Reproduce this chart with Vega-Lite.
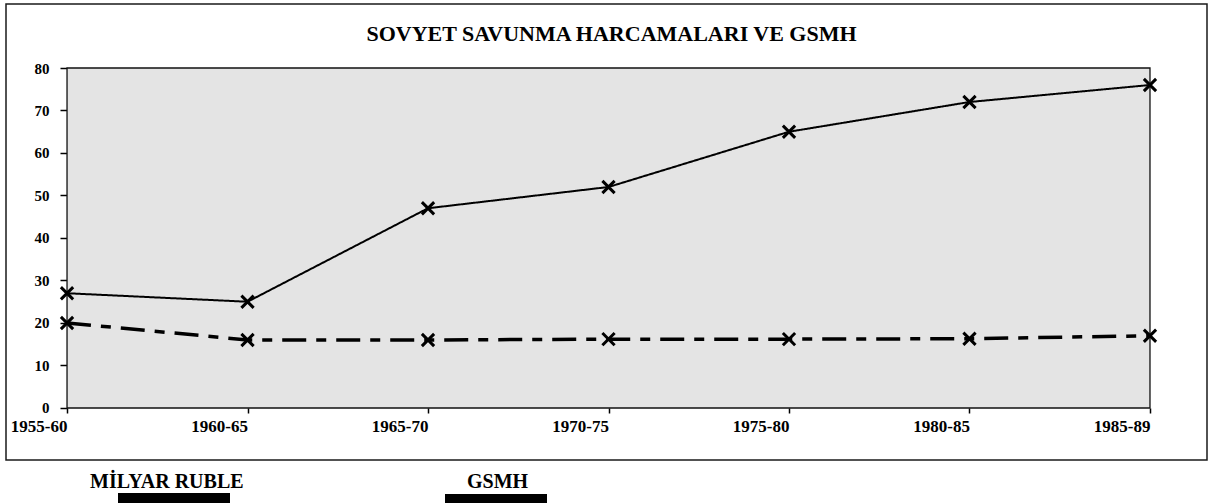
{
  "$schema": "https://vega.github.io/schema/vega-lite/v6.json",
  "autosize": "none",
  "padding": {"left": 6, "top": 4, "right": 15, "bottom": 43},
  "width": 1201,
  "height": 456,
  "background": "white",
  "title": {
    "text": "SOVYET SAVUNMA HARCAMALARI VE GSMH",
    "font": "Liberation Serif",
    "fontSize": 22,
    "fontWeight": "bold",
    "color": "black",
    "offset": -52,
    "baseline": "middle",
    "dx": 5
  },
  "config": {
    "view": {"stroke": "#1a1a1a", "strokeWidth": 1.5, "fill": "white"},
    "font": "Liberation Serif"
  },
  "data": {
    "values": [
      {"period": "1955-60", "series": "MİLYAR RUBLE", "value": 27},
      {"period": "1960-65", "series": "MİLYAR RUBLE", "value": 25},
      {"period": "1965-70", "series": "MİLYAR RUBLE", "value": 47},
      {"period": "1970-75", "series": "MİLYAR RUBLE", "value": 52},
      {"period": "1975-80", "series": "MİLYAR RUBLE", "value": 65},
      {"period": "1980-85", "series": "MİLYAR RUBLE", "value": 72},
      {"period": "1985-89", "series": "MİLYAR RUBLE", "value": 76},
      {"period": "1955-60", "series": "GSMH", "value": 20},
      {"period": "1960-65", "series": "GSMH", "value": 16},
      {"period": "1965-70", "series": "GSMH", "value": 16},
      {"period": "1970-75", "series": "GSMH", "value": 16.2},
      {"period": "1975-80", "series": "GSMH", "value": 16.2},
      {"period": "1980-85", "series": "GSMH", "value": 16.3},
      {"period": "1985-89", "series": "GSMH", "value": 17}
    ]
  },
  "layer": [
    {
      "data": {"values": [{}]},
      "mark": {"type": "rect", "fill": "#e4e4e4", "stroke": "#111111", "strokeWidth": 1.3},
      "encoding": {
        "x": {"datum": "1955-60", "type": "ordinal"},
        "x2": {"datum": "1985-89"},
        "y": {"datum": 0, "type": "quantitative"},
        "y2": {"datum": 80}
      }
    },
    {
      "mark": {"type": "line"},
      "encoding": {
        "x": {
          "field": "period",
          "type": "ordinal",
          "scale": {"type": "point", "padding": 0.327, "align": 0.517},
          "axis": {
            "orient": "bottom",
            "offset": -52,
            "domain": false,
            "tickSize": 5,
            "tickWidth": 1.5,
            "tickColor": "black",
            "labelFont": "Liberation Serif",
            "labelFontSize": 17,
            "labelFontWeight": "bold",
            "labelColor": "black",
            "labelPadding": 13,
            "labelAngle": 0,
            "title": null
          }
        },
        "y": {
          "field": "value",
          "type": "quantitative",
          "scale": {"domain": [-12.24, 95.06], "nice": false, "zero": false},
          "axis": {
            "orient": "left",
            "offset": -61,
            "values": [0, 10, 20, 30, 40, 50, 60, 70, 80],
            "domain": false,
            "grid": false,
            "tickSize": 7,
            "tickWidth": 1.5,
            "tickColor": "black",
            "labelFont": "Liberation Serif",
            "labelFontSize": 15,
            "labelFontWeight": "bold",
            "labelColor": "black",
            "labelPadding": 11,
            "title": null
          }
        },
        "color": {
          "field": "series",
          "type": "nominal",
          "scale": {"domain": ["MİLYAR RUBLE", "GSMH"], "range": ["black", "black"]},
          "legend": {
            "values": ["MİLYAR RUBLE"],
            "orient": "none",
            "legendX": 64,
            "legendY": 468,
            "title": null,
            "padding": 0,
            "labelFont": "Liberation Serif",
            "labelFontSize": 20,
            "labelFontWeight": "bold",
            "labelColor": "black",
            "labelOffset": 0,
            "symbolType": "M39,12H149V24H39Z",
            "symbolSize": 4,
            "symbolFillColor": "black",
            "symbolStrokeWidth": 0,
            "encode": {
              "symbols": {
                "update": {
                  "fill": {"value": "black"},
                  "stroke": {"value": "transparent"},
                  "shape": {"value": "M39,12H149V24H39Z"},
                  "size": {"value": 4},
                  "opacity": {"value": 1}
                }
              }
            }
          }
        },
        "strokeDash": {
          "field": "series",
          "type": "nominal",
          "scale": {"domain": ["GSMH", "MİLYAR RUBLE"], "range": [[24, 10, 10, 10], [1, 0]]},
          "legend": {
            "values": ["GSMH"],
            "orient": "none",
            "legendX": 441,
            "legendY": 468,
            "title": null,
            "padding": 0,
            "labelFont": "Liberation Serif",
            "labelFontSize": 20,
            "labelFontWeight": "bold",
            "labelColor": "black",
            "labelOffset": 0,
            "symbolType": "M-12,12H90V24H-12Z",
            "symbolSize": 4,
            "symbolFillColor": "black",
            "symbolStrokeWidth": 0,
            "encode": {
              "symbols": {
                "update": {
                  "fill": {"value": "black"},
                  "stroke": {"value": "transparent"},
                  "shape": {"value": "M-12,12H90V24H-12Z"},
                  "size": {"value": 4},
                  "strokeDash": {"value": [1, 0]},
                  "opacity": {"value": 1}
                }
              }
            }
          }
        },
        "strokeWidth": {
          "field": "series",
          "type": "ordinal",
          "scale": {"domain": ["MİLYAR RUBLE", "GSMH"], "range": [2, 3.5]},
          "legend": null
        }
      }
    },
    {
      "mark": {
        "type": "point",
        "shape": "M-1,-1L1,1M1,-1L-1,1",
        "filled": false,
        "stroke": "black",
        "strokeWidth": 3,
        "size": 150,
        "opacity": 1
      },
      "encoding": {
        "x": {"field": "period", "type": "ordinal"},
        "y": {"field": "value", "type": "quantitative"}
      }
    }
  ]
}
